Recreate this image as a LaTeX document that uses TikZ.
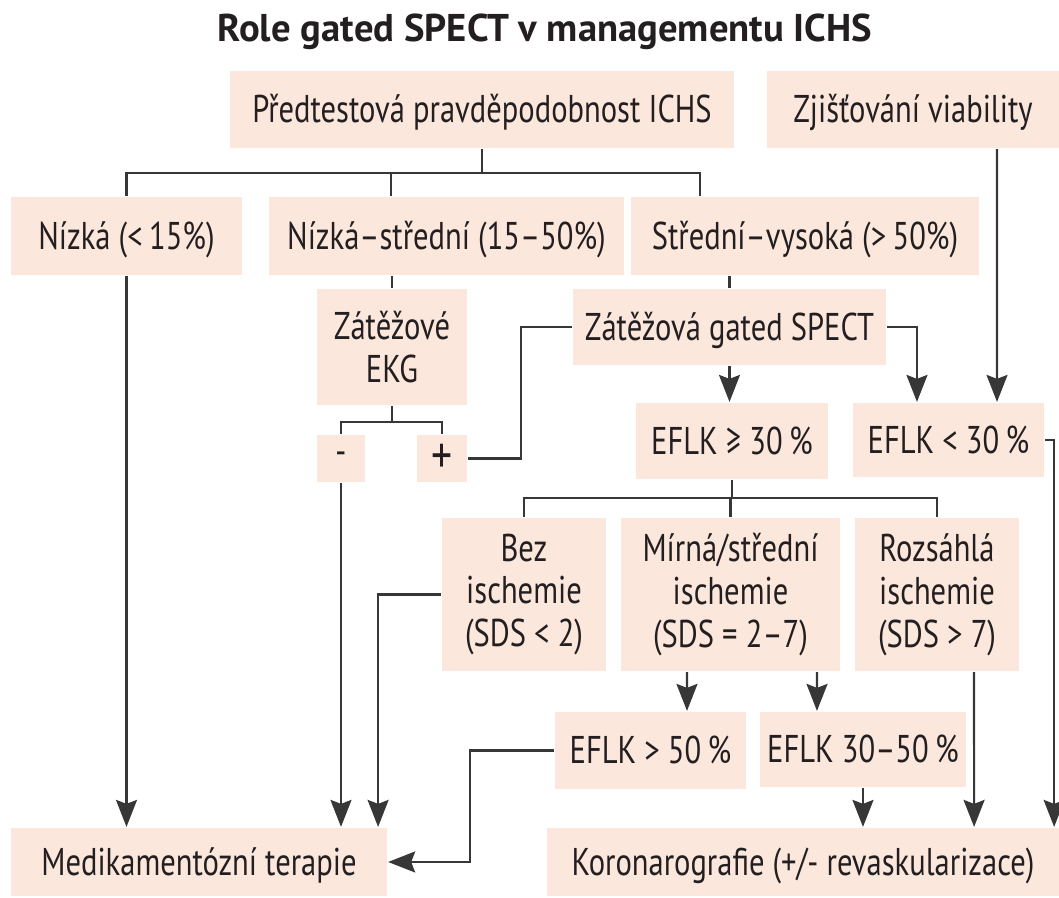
\documentclass[tikz,border=0pt]{standalone}
\usepackage{fontspec}
\setmainfont{PT Sans}[FakeStretch=0.79]
\newfontfamily\titlefont{PT Sans}
\usepackage{tikz}
\usetikzlibrary{arrows.meta, positioning}
\usepackage{xcolor}
\definecolor{boxfill}{RGB}{252,231,220}
\definecolor{wiregray}{RGB}{55,55,55}
\definecolor{inkgray}{RGB}{35,31,32}

\begin{document}
\begin{tikzpicture}[x=0.01cm,y=-0.01cm,line width=0.6pt,draw=wiregray,
  >={Stealth[length=0.27cm,width=0.21cm,inset=0.04cm]}]
  \tikzstyle{box}=[fill=boxfill,inner sep=0pt,align=center,text=inkgray,
                   font=\fontsize{11}{12.2}\selectfont]
  \tikzstyle{box1}=[box,text height=0.27cm,text depth=0pt]

  \useasboundingbox (0,0) rectangle (1059,898);

  \node[anchor=base,text=inkgray,font=\titlefont\bfseries\fontsize{11}{13}\selectfont]
        (title) at (545,42) {Role gated SPECT v managementu ICHS};

  \node[box1,minimum width=5.04cm,minimum height=0.77cm] (pre_p)    at (482,109.5) {Předtestová pravděpodobnost ICHS};
  \node[box1,minimum width=2.92cm,minimum height=0.77cm] (viab)     at (913,109.5) {Zjišťování viability};
  \node[box1,minimum width=2.31cm,minimum height=0.78cm] (low)      at (126.5,236) {Nízká (<\,15\%)};
  \node[box1,minimum width=3.55cm,minimum height=0.78cm] (low_mid)  at (446.5,236) {Nízká–střední (15–50\%)};
  \node[box1,minimum width=3.48cm,minimum height=0.78cm] (mid_high) at (805,236)   {Střední–vysoká (>\,50\%)};
  \node[box, minimum width=1.50cm,minimum height=1.16cm] (ekg)      at (392,347)   {Zátěžové\\EKG};
  \node[box1,minimum width=3.13cm,minimum height=0.76cm] (spect)    at (729.5,327) {Zátěžová gated SPECT};
  \node[box, minimum width=0.48cm,minimum height=0.47cm] (ekg_m)    at (341,458.5) {-};
  \node[box, minimum width=0.50cm,minimum height=0.47cm] (ekg_p)    at (442,458.5) {\fontsize{15}{15}\selectfont +};
  \node[box1,minimum width=1.92cm,minimum height=0.76cm] (ef_ge30)  at (732,441)   {EFLK ≥ 30\,\%};
  \node[box1,minimum width=1.91cm,minimum height=0.74cm] (ef_lt30)  at (948.5,440) {EFLK < 30\,\%};
  \node[box, minimum width=1.64cm,minimum height=1.53cm] (isch_0)   at (524,594.5) {Bez\\ischemie\\(SDS < 2)};
  \node[box, minimum width=2.19cm,minimum height=1.53cm] (isch_1)   at (730.5,594.5) {Mírná/střední\\ischemie\\(SDS = 2–7)};
  \node[box, minimum width=1.64cm,minimum height=1.53cm] (isch_2)   at (937,594.5) {Rozsáhlá\\ischemie\\(SDS > 7)};
  \node[box1,minimum width=1.91cm,minimum height=0.77cm] (ef_gt50)  at (650.5,750.5) {EFLK > 50\,\%};
  \node[box1,minimum width=2.06cm,minimum height=0.75cm] (ef_3050)  at (863,749.5) {EFLK 30–50\,\%};
  \node[box1,minimum width=3.76cm,minimum height=0.68cm] (med)      at (199,862)   {Medikamentózní terapie};
  \node[box1,minimum width=5.12cm,minimum height=0.68cm] (kor)      at (803,862)   {Koronarografie (+/- revaskularizace)};

  \coordinate (d_lm) at ([xshift=-0.555cm]low_mid.north);
  \coordinate (d_mh) at ([xshift=-1.05cm]mid_high.north);

  \draw (pre_p.south) -- ++(0,24) coordinate (j_top);
  \draw (low.north) |- (j_top) -| (d_mh);
  \draw (d_lm) -- (d_lm |- j_top);
  \draw (ekg.north) -- (ekg.north |- low_mid.south);
  \draw (spect.north) -- (spect.north |- mid_high.south);

  \draw (ekg.south) -- ++(0,16) coordinate (j_ekg);
  \draw (ekg_m.north) |- (j_ekg) -| (ekg_p.north);
  \draw (ekg_p.east) -- ++(53,0) |- (spect.west);

  \draw (ef_ge30.south) -- ++(0,18) coordinate (j_isch);
  \draw (isch_0.north) |- (j_isch) -| (isch_2.north);
  \draw (isch_1.north) -- (isch_1.north |- j_isch);

  \draw[->] (low.south) -- (low.south |- med.north);
  \draw[->] (ekg_m.south) -- (ekg_m.south |- med.north);
  \draw[->] (isch_0.west) -| ([xshift=1.79cm]med.north);
  \draw[->] (ef_gt50.west) -- ++(-84,0) |- (med.east);
  \draw[->] (spect.south) -- (spect.south |- ef_ge30.north);
  \draw[->] (spect.east) -| ([xshift=-0.315cm]ef_lt30.north);
  \draw[->] ([xshift=0.84cm]viab.south) -- ([xshift=0.485cm]ef_lt30.north);
  \draw[->] ([xshift=-0.435cm]isch_1.south) -- ([xshift=0.365cm]ef_gt50.north);
  \draw[->] ([xshift=0.865cm]isch_1.south) -- ([xshift=-0.46cm]ef_3050.north);
  \draw[->] (ef_3050.south) -- (ef_3050.south |- kor.north);
  \draw[->] ([xshift=0.37cm]isch_2.south) -- ([xshift=1.71cm]kor.north);
  \draw[->] (ef_lt30.east) -| ([xshift=2.51cm]kor.north);
\end{tikzpicture}
\end{document}
